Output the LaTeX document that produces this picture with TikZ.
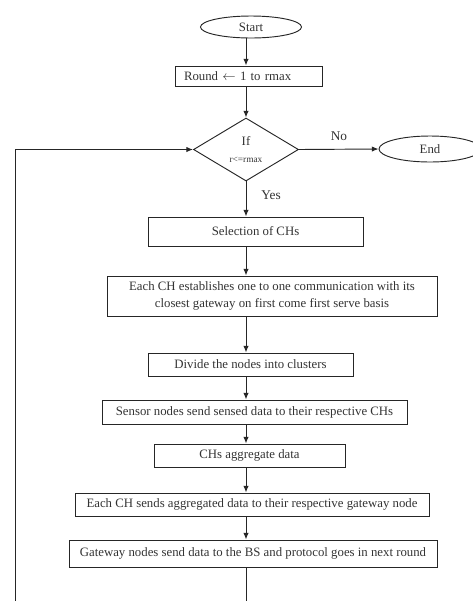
\documentclass[tikz,border=0pt]{standalone}
\usepackage{fontspec}
\setmainfont{Liberation Serif}
\usetikzlibrary{arrows.meta,positioning,shapes.geometric,calc}

\tikzset{
    box/.style={draw=black!85, line width=0.7pt, rectangle, inner sep=1pt, align=center,
        text=black!80, font=\fontsize{9.6}{12.75}\selectfont},
    term/.style={draw=black!85, line width=0.7pt, ellipse, inner sep=0pt,
        text=black!80, font=\fontsize{9.6}{12}\selectfont},
    decision/.style={draw=black!85, line width=0.7pt, diamond, inner sep=0pt, aspect=1.67,
        align=center, text=black!80},
    arr/.style={-{Latex[length=5pt,width=4pt]}, line width=0.7pt, black!85},
    lbl/.style={text=black!80, font=\fontsize{10}{12}\selectfont}
}

\begin{document}
\begin{tikzpicture}[x=0.75pt, y=-0.75pt]
    \useasboundingbox (0,0) rectangle (473,601);

    % terminals and decision
    \node[term, minimum width=75.75pt, minimum height=16.5pt] (start) at (251,27) {Start};
    \node[box, minimum height=15pt, text width=96.75pt, inner xsep=6.75pt, align=left] (init) at (248.5,76)
        {Round $\leftarrow$ 1 to rmax};
    \node[decision, minimum width=78.75pt, minimum height=47.25pt] (cond) at (246,149.5)
        {\fontsize{9.6}{11}\selectfont If\\[1pt] \fontsize{7}{8}\selectfont r<=rmax};
    \node[term, minimum width=76.5pt, minimum height=19.5pt] (stop) at (430,149) {End};

    % process steps
    \node[box, minimum width=161.25pt, minimum height=21.75pt] (select) at (255.5,231.5) {Selection of CHs};
    \node[box, minimum width=247.5pt, minimum height=30pt] (link) at (272,296)
        {Each CH establishes one to one communication with its\\closest gateway on first come first serve basis};
    \node[box, minimum width=153.75pt, minimum height=17.25pt] (divide) at (250.5,364.5) {Divide the nodes into clusters};
    \node[box, minimum width=228.75pt, minimum height=18pt] (sense) at (254.5,412) {Sensor nodes send sensed data to their respective CHs};
    \node[box, minimum width=143.25pt, minimum height=17.25pt] (aggr) at (249.5,455.5) {CHs aggregate data};
    \node[box, minimum width=265.5pt, minimum height=17.25pt] (send) at (252,504.5) {Each CH sends aggregated data to their respective gateway node};
    \node[box, minimum width=276pt, minimum height=20.25pt] (gw) at (253,553.5) {Gateway nodes send data to the BS and protocol goes in next round};

    \node[lbl] (no) at (339,136) {No};
    \node[lbl] (yes) at (271,195) {Yes};

    \coordinate (loopB) at (246,601);
    \coordinate (loopL) at (15,601);

    % connectors
    \draw[arr] (start.south -| cond) -- (init.north -| cond);
    \draw[arr] (init.south -| cond) -- (cond.north);
    \draw[arr] (cond.east) -- (stop.west);
    \draw[arr] (cond.south) -- (select.north -| cond);
    \draw[arr] (select.south -| cond) -- (link.north -| cond);
    \draw[arr] (link.south -| cond) -- (divide.north -| cond);
    \draw[arr] (divide.south -| cond) -- (sense.north -| cond);
    \draw[arr] (sense.south -| cond) -- (aggr.north -| cond);
    \draw[arr] (aggr.south -| cond) -- (send.north -| cond);
    \draw[arr] (send.south -| cond) -- (gw.north -| cond);
    \draw[line width=0.7pt, black!85] (gw.south -| cond) -- (loopB);
    \draw[arr] (loopL) |- (cond.west);
\end{tikzpicture}
\end{document}
